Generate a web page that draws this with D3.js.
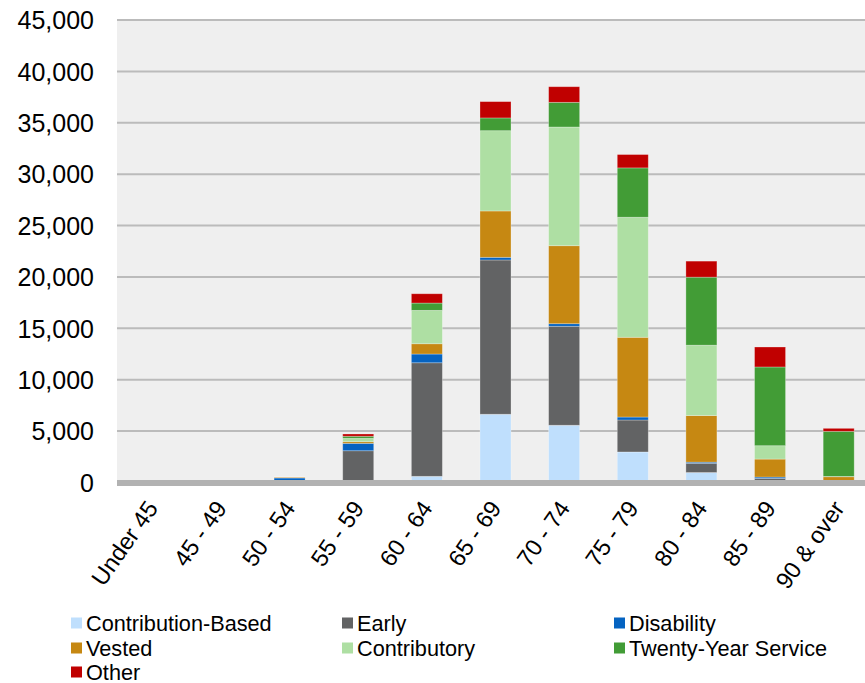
<!DOCTYPE html>
<html>
<head>
<meta charset="utf-8">
<script src="https://cdn.jsdelivr.net/npm/d3@7"></script>
<style>
  html, body { margin: 0; padding: 0; background: #ffffff; }
  svg { display: block; font-family: "Liberation Sans", Arial, sans-serif; }
</style>
</head>
<body>
<svg id="chart" width="865" height="683"></svg>
<script>
// Retirees by age group and retirement type
const categories = ["Under 45", "45 - 49", "50 - 54", "55 - 59", "60 - 64", "65 - 69",
                    "70 - 74", "75 - 79", "80 - 84", "85 - 89", "90 & over"];

const seriesNames = ["Contribution-Based", "Early", "Disability", "Vested",
                     "Contributory", "Twenty-Year Service", "Other"];

const contributionBased = [0, 0, 0, 40, 600, 6640, 5570, 2970, 970, 150, 20];
const early             = [0, 0, 40, 3050, 11050, 15010, 9630, 3110, 900, 250, 20];
const disability        = [0, 20, 400, 720, 850, 260, 250, 290, 110, 130, 0];
const vested            = [0, 0, 80, 160, 1000, 4510, 7590, 7760, 4530, 1750, 520];
const contributory      = [0, 0, 10, 330, 3250, 7810, 11550, 11680, 6850, 1300, 30];
const twentyYear        = [0, 0, 0, 200, 710, 1240, 2400, 4800, 6620, 7660, 4390];
const other             = [0, 0, 5, 220, 905, 1590, 1520, 1300, 1560, 1945, 290];

const yTicks = [0, 5000, 10000, 15000, 20000, 25000, 30000, 35000, 40000, 45000];

const colors = ["#BFDFFD", "#626364", "#0563C1", "#C68812", "#AEDFA3", "#429C36", "#C00000"];

const seriesValues = [contributionBased, early, disability, vested, contributory, twentyYear, other];

// Build rows for d3.stack
const rows = categories.map((c, i) => {
  const r = { category: c };
  seriesNames.forEach((s, k) => { r[s] = seriesValues[k][i]; });
  return r;
});

const svg = d3.select("#chart");

const plot = { left: 117, right: 865, top: 20, bottom: 482.5 };

const x = d3.scaleBand()
  .domain(categories)
  .range([118, 873])
  .paddingInner(0.548)
  .paddingOuter(0.274);

const y = d3.scaleLinear()
  .domain([0, 45000])
  .range([plot.bottom, plot.top]);

// Plot background
svg.append("rect")
  .attr("x", plot.left).attr("y", plot.top)
  .attr("width", plot.right - plot.left)
  .attr("height", plot.bottom - plot.top)
  .attr("fill", "#EFEFEF");

// Gridlines
svg.append("g")
  .selectAll("line")
  .data(yTicks.filter(d => d > 0))
  .join("line")
  .attr("x1", plot.left).attr("x2", plot.right)
  .attr("y1", d => y(d)).attr("y2", d => y(d))
  .attr("stroke", "#BBBBBB")
  .attr("stroke-width", 2);

// Y axis labels
const yAxis = d3.axisLeft(y)
  .tickValues(yTicks)
  .tickFormat(d3.format(","))
  .tickSize(0)
  .tickPadding(0);

const yg = svg.append("g")
  .attr("transform", `translate(${94},0)`)
  .call(yAxis);
yg.select(".domain").remove();
yg.selectAll("text")
  .attr("font-size", 25)
  .attr("font-family", "'Liberation Sans', Arial, sans-serif")
  .attr("fill", "#000")
  .attr("dy", "0.35em");

// Stacked bars
const stack = d3.stack().keys(seriesNames);
const stacked = stack(rows);

svg.append("g")
  .selectAll("g")
  .data(stacked)
  .join("g")
  .attr("fill", (d, i) => colors[i])
  .selectAll("rect")
  .data(d => d)
  .join("rect")
  .attr("x", d => x(d.data.category))
  .attr("width", x.bandwidth())
  .attr("y", d => y(d[1]))
  .attr("height", d => Math.max(0, y(d[0]) - y(d[1])))
  .attr("stroke", "rgba(255,255,255,0.35)")
  .attr("stroke-width", 0.8);

// Category axis line
svg.append("line")
  .attr("x1", plot.left).attr("x2", plot.right)
  .attr("y1", 483).attr("y2", 483)
  .attr("stroke", "#B2B2B2")
  .attr("stroke-width", 6);

// Category labels
const xAxis = d3.axisBottom(x).tickSize(0).tickPadding(0);
const xg = svg.append("g")
  .attr("transform", `translate(0,${plot.bottom})`)
  .call(xAxis);
xg.select(".domain").remove();
xg.selectAll("text")
  .attr("font-size", 23.5)
  .attr("font-family", "'Liberation Sans', Arial, sans-serif")
  .attr("fill", "#000")
  .attr("text-anchor", "end")
  .attr("dy", "0.35em")
  .attr("transform", "translate(0,21) rotate(-55)");

// Legend
const legendCols = [71, 342, 614];
const legendRows = [623, 648, 672];
const legend = svg.append("g")
  .selectAll("g")
  .data(seriesNames)
  .join("g")
  .attr("transform", (d, i) => `translate(${legendCols[i % 3]},${legendRows[Math.floor(i / 3)]})`);

legend.append("rect")
  .attr("x", 0).attr("y", -5.5)
  .attr("width", 11).attr("height", 11)
  .attr("fill", (d, i) => colors[i]);

legend.append("text")
  .attr("x", 15)
  .attr("y", 0)
  .attr("dy", "0.35em")
  .attr("font-size", 21.7)
  .attr("fill", "#000")
  .text(d => d);
</script>
</body>
</html>
